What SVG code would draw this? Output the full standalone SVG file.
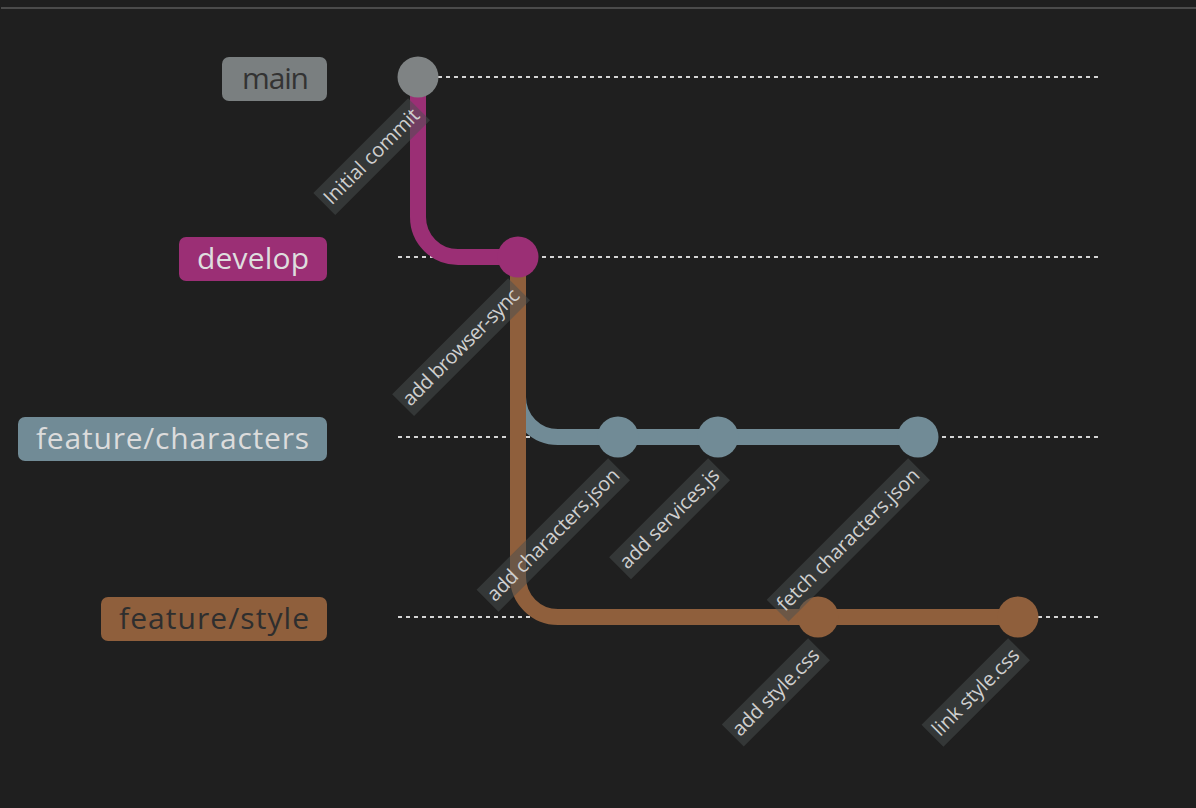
<svg xmlns="http://www.w3.org/2000/svg" width="1196" height="808" viewBox="0 0 1196 808">
<style>
.lane{stroke:#d4d4d4;stroke-width:2;stroke-dasharray:4 4;fill:none}
.blabel{font-family:"Open Sans","DejaVu Sans",sans-serif;font-size:30px;text-anchor:end}
.arrow{fill:none;stroke-width:16}
.clbg{fill:#4a4f4f;opacity:0.5}
.cltext{font-family:"Open Sans","DejaVu Sans",sans-serif;font-size:20px;fill:#cfcfcf;text-anchor:end}
</style>
<rect x="0" y="0" width="1196" height="808" fill="#1f1f1f"/>
<rect x="1" y="7" width="1195" height="2" fill="#4b4b4b"/>

<g id="lanes">
<line class="lane" x1="398" y1="77" x2="1098" y2="77"/>
<line class="lane" x1="398" y1="257" x2="1098" y2="257"/>
<line class="lane" x1="398" y1="437" x2="1098" y2="437"/>
<line class="lane" x1="398" y1="617" x2="1098" y2="617"/>
</g>

<g id="branch-main">
<rect x="222" y="57" width="105" height="44" rx="7" fill="#7a7f80"/>
<text class="blabel" x="309" y="89" fill="#333333" textLength="67">main</text>
</g>
<g id="branch-develop">
<rect x="179" y="237" width="148" height="44" rx="7" fill="#9b2f75"/>
<text class="blabel" x="309" y="269" fill="#dedede" textLength="112">develop</text>
</g>
<g id="branch-feature-characters">
<rect x="18" y="417" width="309" height="44" rx="7" fill="#718b96"/>
<text class="blabel" x="309" y="449" fill="#dcdcdc" textLength="273">feature/characters</text>
</g>
<g id="branch-feature-style">
<rect x="101" y="597" width="226" height="44" rx="7" fill="#8f5f3c"/>
<text class="blabel" x="309" y="629" fill="#2e2e2e" textLength="190">feature/style</text>
</g>

<g id="connectors">
<path class="arrow" stroke="#9b2f75" d="M418 77 L418 217 A40 40 0 0 0 458 257 L518 257"/>
<path class="arrow" stroke="#718b96" d="M518 257 L518 397 A40 40 0 0 0 558 437 L618 437"/>
<path class="arrow" stroke="#718b96" d="M618 437 L718 437"/>
<path class="arrow" stroke="#718b96" d="M718 437 L918 437"/>
<path class="arrow" stroke="#8f5f3c" d="M518 257 L518 577 A40 40 0 0 0 558 617 L818 617"/>
<path class="arrow" stroke="#8f5f3c" d="M818 617 L1018 617"/>
</g>

<g id="commit-initial">
<circle cx="418" cy="77" r="20.5" fill="#7f8384"/>
</g>
<g id="commit-browser-sync">
<circle cx="518" cy="257" r="20.5" fill="#9b2f75"/>
</g>
<g id="commit-characters-json">
<circle cx="618" cy="437" r="20.5" fill="#718b96"/>
</g>
<g id="commit-services-js">
<circle cx="718" cy="437" r="20.5" fill="#718b96"/>
</g>
<g id="commit-add-style">
<circle cx="818" cy="617" r="20.5" fill="#8f5f3c"/>
</g>
<g id="commit-fetch-characters">
<circle cx="918" cy="437" r="20.5" fill="#718b96"/>
</g>
<g id="commit-link-style">
<circle cx="1018" cy="617" r="20.5" fill="#8f5f3c"/>
</g>

<g id="commit-labels">
<g transform="translate(418 77) rotate(-45)">
<rect class="clbg" x="-156" y="8" width="134" height="31"/>
<text class="cltext" x="-26" y="30" textLength="126">Initial commit</text>
</g>
<g transform="translate(518 257) rotate(-45)">
<rect class="clbg" x="-186" y="8" width="164" height="31"/>
<text class="cltext" x="-26" y="30" textLength="156">add browser-sync</text>
</g>
<g transform="translate(618 437) rotate(-45)">
<rect class="clbg" x="-208" y="8" width="186" height="31"/>
<text class="cltext" x="-26" y="30" textLength="178">add characters.json</text>
</g>
<g transform="translate(718 437) rotate(-45)">
<rect class="clbg" x="-162" y="8" width="140" height="31"/>
<text class="cltext" x="-26" y="30" textLength="132">add services.js</text>
</g>
<g transform="translate(818 617) rotate(-45)">
<rect class="clbg" x="-144" y="8" width="122" height="31"/>
<text class="cltext" x="-26" y="30" textLength="114">add style.css</text>
</g>
<g transform="translate(918 437) rotate(-45)">
<rect class="clbg" x="-222" y="8" width="200" height="31"/>
<text class="cltext" x="-26" y="30" textLength="192">fetch characters.json</text>
</g>
<g transform="translate(1018 617) rotate(-45)">
<rect class="clbg" x="-144.5" y="8" width="122.5" height="31"/>
<text class="cltext" x="-26" y="30" textLength="114">link style.css</text>
</g>
</g>
</svg>
